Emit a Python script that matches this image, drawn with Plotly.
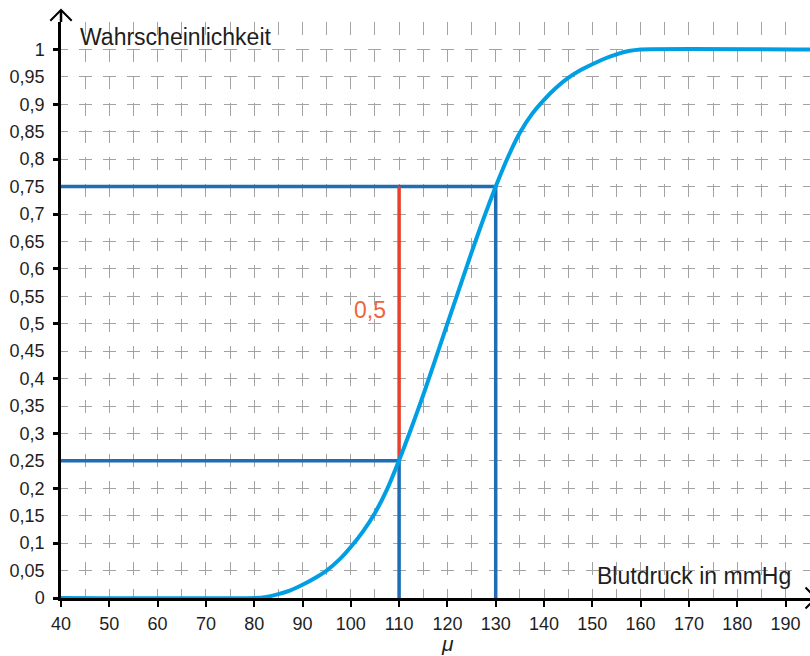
import plotly.graph_objects as go

# ---- data ----
bp_x = [40, 80, 82.5, 85, 87.5, 90, 92.5, 95, 97.5, 100, 102.5, 105, 107.5, 110,
        112.5, 115, 120, 125, 127.5, 130, 132.5, 135, 137.5, 140, 142.5, 145, 147.5,
        150, 152.5, 155, 157.5, 160, 195.1]
prob_y = [0, 0, 0.002, 0.007, 0.014, 0.024, 0.036, 0.050, 0.069, 0.093, 0.121, 0.155,
          0.198, 0.251, 0.309, 0.37, 0.5, 0.63, 0.692, 0.75, 0.803, 0.848, 0.882,
          0.908, 0.93, 0.948, 0.962, 0.973, 0.983, 0.991, 0.997, 1, 1]

quant_p = [0.25, 0.75]
quant_x = [110, 130]
diff_label = "0,5"

x_ticks = list(range(40, 200, 10))
x_minor = list(range(45, 200, 10))
y_ticks = [round(i * 0.05, 2) for i in range(22)]          # 0 .. 1.05
y_labels = [("%g" % v).replace(".", ",") for v in y_ticks[:-1]] + [""]
y_major_marks = [round(i * 0.1, 1) for i in range(11)]

CURVE = "#009fe3"
DARK = "#1f6db4"
RED = "#e8402d"
LABEL_RED = "#ef6440"
GRID = "#a3a3a3"
TXT = "#1e1e1e"
FONT = "Liberation Sans"

X_RANGE = [40, 195.07]
Y_RANGE = [0, 1.05]

fig = go.Figure()

for xq, p in zip(quant_x, quant_p):
    fig.add_trace(go.Scatter(x=[X_RANGE[0], xq, xq], y=[p, p, 0], mode="lines",
                             line=dict(color=DARK, width=3.5), hoverinfo="skip",
                             showlegend=False))

fig.add_trace(go.Scatter(x=[quant_x[0], quant_x[0]], y=[quant_p[0], quant_p[1]],
                         mode="lines", line=dict(color=RED, width=3.5),
                         hoverinfo="skip", showlegend=False))

fig.add_trace(go.Scatter(x=bp_x, y=prob_y, mode="lines",
                         line=dict(color=CURVE, width=4, shape="spline", smoothing=0.6),
                         hoverinfo="skip", showlegend=False))

# dummy trace for tick-mark overlay axis
fig.add_trace(go.Scatter(x=[None], y=[None], yaxis="y2", showlegend=False,
                         hoverinfo="skip"))

fig.update_layout(
    width=810, height=656, autosize=False,
    margin=dict(l=61, r=0, t=22, b=58, autoexpand=False),
    paper_bgcolor="white", plot_bgcolor="white",
    font=dict(family=FONT, color=TXT, size=18),
    xaxis=dict(range=X_RANGE, tickvals=x_ticks, ticktext=[str(v) for v in x_ticks],
               ticks="outside", ticklen=6, tickwidth=2, tickcolor="black",
               showline=True, linecolor="black", linewidth=2.5,
               showgrid=True, gridcolor=GRID, gridwidth=1.3, griddash="13px,14px",
               minor=dict(tickvals=x_minor, showgrid=True, gridcolor=GRID,
                          gridwidth=1.3, griddash="13px,14px", ticks=""),
               zeroline=False, ticklabelstandoff=2, automargin=False,
               tickfont=dict(size=18, color=TXT)),
    yaxis=dict(range=Y_RANGE, tickvals=y_ticks, ticktext=y_labels,
               ticks="outside", ticklen=7, tickcolor="rgba(0,0,0,0)",
               showline=True, linecolor="black", linewidth=2.5,
               showgrid=True, gridcolor=GRID, gridwidth=1.3,
               griddash="6.5px,11.15px,6.5px,0px",
               zeroline=False, ticklabelstandoff=3, automargin=False,
               tickfont=dict(size=18, color=TXT)),
    yaxis2=dict(range=Y_RANGE, overlaying="y", side="left", anchor="x",
                tickvals=y_major_marks, ticks="outside", ticklen=7, tickwidth=2.5,
                tickcolor="black", showticklabels=False, showgrid=False,
                showline=False, zeroline=False, automargin=False),
)

# axis arrow heads (decoration, paper coordinates)
W, H = 749.0, 576.0
def px(xp, yp):
    return (xp - 61) / W, (598 - yp) / H

ax1, ay1 = px(61, 10)
a1 = px(50.3, 20.7); a2 = px(71.7, 20.7)
fig.add_shape(type="line", xref="paper", yref="paper", x0=0, y0=1, x1=ax1, y1=ay1,
              line=dict(color="black", width=2.5))
fig.add_shape(type="path", xref="paper", yref="paper",
              path=f"M{a1[0]},{a1[1]} L{ax1},{ay1} L{a2[0]},{a2[1]}",
              line=dict(color="black", width=2))
t = px(816, 598); b1 = px(805.5, 587.5); b2 = px(805.5, 608.5)
fig.add_shape(type="path", xref="paper", yref="paper",
              path=f"M{b1[0]},{b1[1]} L{t[0]},{t[1]} L{b2[0]},{b2[1]}",
              line=dict(color="black", width=2))

fig.add_annotation(x=43.5, y=1.023, xref="x", yref="y", text="Wahrscheinlichkeit",
                   showarrow=False, xanchor="left", yanchor="middle",
                   font=dict(size=23, color=TXT, family=FONT))
fig.add_annotation(x=191.6, y=0.041, xref="x", yref="y", text="Blutdruck in mmHg",
                   showarrow=False, xanchor="right", yanchor="middle",
                   font=dict(size=23, color=TXT, family=FONT))
fig.add_annotation(x=107.6, y=0.525, xref="x", yref="y", text=diff_label,
                   showarrow=False, xanchor="right", yanchor="middle",
                   font=dict(size=23, color=LABEL_RED, family=FONT))
fig.add_annotation(x=120, y=-0.0795, xref="x", yref="paper", text="<i>μ</i>",
                   showarrow=False, xanchor="center", yanchor="middle",
                   font=dict(size=21, color=TXT, family=FONT))

fig.write_html("out.html", config={"displayModeBar": False},
               post_script="document.body.style.margin='0';"
                           "document.body.style.padding='0';"
                           "document.body.style.overflow='hidden';")
